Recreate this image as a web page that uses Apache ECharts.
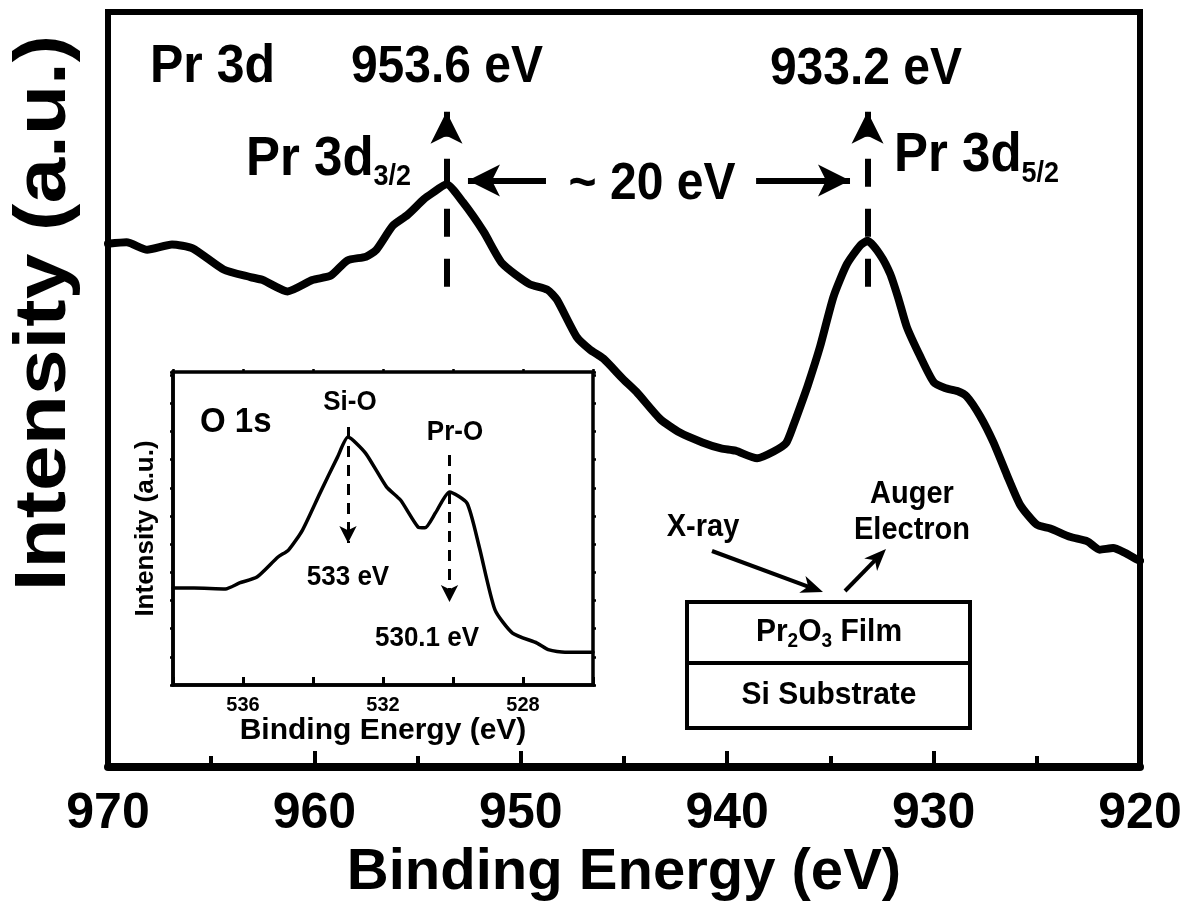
<!DOCTYPE html>
<html>
<head>
<meta charset="utf-8">
<script src="https://cdn.jsdelivr.net/npm/echarts@6/dist/echarts.min.js"></script>
<style>
  html, body { margin: 0; padding: 0; background: #fff; }
  #chart { width: 1193px; height: 907px; }
</style>
</head>
<body>
<div id="chart"></div>
<script>
// Pr 3d core-level spectrum: binding energy (eV) and intensity (a.u.)
const pr3dEnergy = [
  970.0, 969.1, 968.1, 966.9, 965.9, 964.4, 963.1, 962.5, 961.3, 960.1,
  959.2, 958.4, 957.5, 957.0, 956.2, 955.5, 954.7, 954.3, 953.6, 952.8,
  951.8, 950.9, 949.6, 948.7, 948.25, 947.3, 946.65, 946.0, 945.05, 944.4,
  943.25, 942.3, 941.2, 940.3, 939.6, 938.55, 937.75, 937.15, 936.8, 936.45,
  936.1, 935.5, 934.85, 934.2, 933.55, 933.2, 932.6, 932.1, 931.7, 931.3,
  930.65, 930.0, 929.45, 928.85, 928.4, 927.75, 927.1, 926.45, 925.8, 925.0,
  924.35, 923.4, 922.55, 921.95, 921.3, 920.75, 920.15, 920.0
];
const pr3dIntensity = [
  69.3, 69.5, 68.5, 69.2, 68.7, 65.9, 64.9, 64.5, 63.0, 64.5,
  65.1, 67.1, 67.6, 68.5, 71.7, 73.1, 75.2, 76.0, 77.2, 74.8,
  70.9, 66.7, 64.0, 63.2, 61.9, 57.0, 55.3, 54.1, 51.4, 49.7,
  46.1, 44.3, 43.0, 42.2, 41.9, 40.9, 41.8, 42.9, 45.2, 47.8,
  50.5, 55.7, 62.3, 66.6, 69.1, 69.7, 67.9, 65.3, 62.0, 58.3,
  54.4, 51.0, 50.2, 49.8, 49.1, 46.5, 43.0, 38.7, 34.7, 32.1,
  31.6, 30.5, 29.9, 28.8, 29.0, 28.4, 27.5, 27.3
];

// O 1s inset spectrum
const o1sEnergy = [
  538.0, 537.4, 536.5, 536.1, 535.6, 535.0, 534.7, 534.3, 533.8, 533.3,
  533.0, 532.5, 531.9, 531.5, 531.0, 530.8, 530.5, 530.1, 529.6, 529.25,
  528.8, 528.3, 527.6, 527.25, 526.8, 526.0
];
const o1sIntensity = [
  31.0, 31.0, 30.7, 32.6, 34.5, 40.9, 43.1, 49.5, 61.3, 72.8,
  79.2, 74.1, 63.3, 59.1, 50.5, 50.2, 55.0, 61.7, 58.1, 44.1,
  24.0, 16.6, 13.4, 11.2, 10.5, 10.5
];

// Peak positions (eV)
const pr3dPeaks = [953.6, 933.2];   // 3d3/2, 3d5/2
const o1sPeaks = [533.0, 530.1];    // Si-O, Pr-O

// Tick labels
const mainTickLabels = [970, 960, 950, 940, 930, 920];
const insetTickLabels = [536, 532, 528];

const FONT = '"Liberation Sans", Arial, Helvetica, sans-serif';
const STRETCH = 1.07;   // slightly tall lettering
const zip = (xs, ys) => xs.map((x, i) => [x, ys[i]]);

const measureCtx = document.createElement('canvas').getContext('2d');
function textWidth(t, size) {
  measureCtx.font = 'bold ' + size + 'px ' + FONT;
  return measureCtx.measureText(t).width;
}
function txt(t, x, y, size, align, extra) {
  return Object.assign({
    type: 'text', x: x, y: y, silent: true, scaleY: STRETCH,
    style: {
      text: t, fontSize: size, fontWeight: 'bold', fontFamily: FONT,
      fill: '#000', align: align || 'center', verticalAlign: 'middle'
    }
  }, extra || {});
}
// a run of text pieces [text, size, dy] laid out left to right
function textRun(pieces, x, y, align) {
  const total = pieces.reduce((s, p) => s + textWidth(p[0], p[1]), 0);
  let cx = align === 'center' ? x - total / 2 : x;
  return pieces.map(p => {
    const el = txt(p[0], cx, y + (p[2] || 0), p[1], 'left');
    cx += textWidth(p[0], p[1]);
    return el;
  });
}
// straight arrow with a filled head
function arrow(x1, y1, x2, y2, len, wid, lw) {
  const dx = x2 - x1, dy = y2 - y1, d = Math.hypot(dx, dy);
  const ux = dx / d, uy = dy / d, px = -uy, py = ux;
  const bx = x2 - ux * len, by = y2 - uy * len;
  const nx = x2 - ux * len * 0.72, ny = y2 - uy * len * 0.72;
  return [
    { type: 'line', silent: true, shape: { x1: x1, y1: y1, x2: nx, y2: ny },
      style: { stroke: '#000', lineWidth: lw } },
    { type: 'polygon', silent: true,
      shape: { points: [[x2, y2], [bx + px * wid / 2, by + py * wid / 2], [nx, ny], [bx - px * wid / 2, by - py * wid / 2]] },
      style: { fill: '#000' } }
  ];
}

const chart = echarts.init(document.getElementById('chart'), null, { renderer: 'canvas' });

const thinTicks = (len, w) => ({ show: true, inside: false, length: len, lineStyle: { color: '#000', width: w } });

const option = {
  animation: false,
  backgroundColor: '#fff',
  textStyle: { fontFamily: FONT, fontWeight: 'bold', color: '#000' },
  grid: [
    { left: 108, top: 12, width: 1032, height: 763, show: true, borderColor: '#000', borderWidth: 6, backgroundColor: 'transparent' },
    { left: 173, top: 372, width: 420, height: 313, show: true, borderColor: '#000', borderWidth: 3.5, backgroundColor: '#fff' }
  ],
  xAxis: [
    {
      gridIndex: 0, type: 'value', min: 920, max: 970, interval: 10, inverse: true,
      axisLine: { show: true, onZero: false, lineStyle: { color: '#000', width: 8 } },
      axisTick: { show: true, inside: true, length: 16, lineStyle: { color: '#000', width: 4 } },
      minorTick: { show: true, splitNumber: 2, length: 11, lineStyle: { color: '#000', width: 4 } },
      splitLine: { show: false },
      axisLabel: {
        show: true, margin: 22, fontSize: 50, fontWeight: 'bold', fontFamily: FONT, color: '#000',
        showMinLabel: true, showMaxLabel: true,
        formatter: v => (mainTickLabels.indexOf(v) >= 0 ? String(v) : '')
      },
      name: 'Binding Energy (eV)', nameLocation: 'middle', nameGap: 66,
      nameTextStyle: { fontSize: 58, fontWeight: 'bold', fontFamily: FONT, color: '#000' }
    },
    {
      gridIndex: 1, type: 'value', min: 526, max: 538, interval: 2, inverse: true,
      axisLine: { show: true, onZero: false, lineStyle: { color: '#000', width: 3.5 } },
      axisTick: { show: true, inside: true, length: 8, lineStyle: { color: '#000', width: 3 } },
      splitLine: { show: false },
      axisLabel: {
        show: true, margin: 10, fontSize: 20, fontWeight: 'bold', fontFamily: FONT, color: '#000',
        formatter: v => (insetTickLabels.indexOf(v) >= 0 ? String(v) : '')
      },
      name: 'Binding Energy (eV)', nameLocation: 'middle', nameGap: 30,
      nameTextStyle: { fontSize: 30, fontWeight: 'bold', fontFamily: FONT, color: '#000' }
    },
    {
      gridIndex: 1, type: 'value', min: 526, max: 538, interval: 2, inverse: true, position: 'top',
      axisLine: { show: false, onZero: false },
      axisTick: thinTicks(3, 2.5),
      axisLabel: { show: false }, splitLine: { show: false }
    }
  ],
  yAxis: [
    {
      gridIndex: 0, type: 'value', min: 0, max: 100, interval: 3.5,
      axisLine: { show: true, onZero: false, lineStyle: { color: '#000', width: 6 } },
      axisTick: thinTicks(3, 3), axisLabel: { show: false }, splitLine: { show: false }
    },
    {
      gridIndex: 0, type: 'value', min: 0, max: 100, interval: 3.5, position: 'right',
      axisLine: { show: true, onZero: false, lineStyle: { color: '#000', width: 6 } },
      axisTick: thinTicks(3, 3), axisLabel: { show: false }, splitLine: { show: false }
    },
    {
      gridIndex: 1, type: 'value', min: 0, max: 100, interval: 9,
      axisLine: { show: true, onZero: false, lineStyle: { color: '#000', width: 3.5 } },
      axisTick: thinTicks(3, 2.5), axisLabel: { show: false }, splitLine: { show: false },
      name: 'Intensity (a.u.)', nameLocation: 'middle', nameGap: 14, nameRotate: 90,
      nameTextStyle: { fontSize: 26, fontWeight: 'bold', fontFamily: FONT, color: '#000' }
    },
    {
      gridIndex: 1, type: 'value', min: 0, max: 100, interval: 9, position: 'right',
      axisLine: { show: false, onZero: false },
      axisTick: thinTicks(3, 2.5), axisLabel: { show: false }, splitLine: { show: false }
    }
  ],
  series: [
    {
      name: 'Pr 3d', type: 'line', xAxisIndex: 0, yAxisIndex: 0,
      data: zip(pr3dEnergy, pr3dIntensity),
      showSymbol: false, smooth: 0.2, silent: true,
      lineStyle: { color: '#000', width: 8, cap: 'round', join: 'round' },
      markLine: {
        silent: true, animation: false,
        symbol: ['none', 'arrow'], symbolSize: [24, 32],
        label: { show: false },
        emphasis: { disabled: true },
        lineStyle: { color: '#000', width: 6, type: [28, 22], opacity: 1 },
        data: [
          [{ coord: [pr3dPeaks[0], 63.6] }, { coord: [pr3dPeaks[0], 86.8] }],
          [{ coord: [pr3dPeaks[1], 63.6] }, { coord: [pr3dPeaks[1], 86.8] }],
          [{ coord: [948.78, 77.7], lineStyle: { type: 'solid', width: 6 } }, { coord: [952.56, 77.7] }],
          [{ coord: [938.6, 77.7], lineStyle: { type: 'solid', width: 6 } }, { coord: [934.05, 77.7] }]
        ]
      }
    },
    {
      name: 'O 1s', type: 'line', xAxisIndex: 1, yAxisIndex: 2,
      data: zip(o1sEnergy, o1sIntensity),
      showSymbol: false, smooth: 0.2, silent: true,
      lineStyle: { color: '#000', width: 3.5, cap: 'round', join: 'round' },
      markLine: {
        silent: true, animation: false,
        symbol: ['none', 'arrow'], symbolSize: [13, 17],
        label: { show: false },
        emphasis: { disabled: true },
        lineStyle: { color: '#000', width: 3, type: [11, 8], opacity: 1 },
        data: [
          [{ coord: [o1sPeaks[0], 82.4] }, { coord: [o1sPeaks[0], 45.4] }],
          [{ coord: [o1sPeaks[1], 73.5] }, { coord: [o1sPeaks[1], 26.5] }]
        ]
      }
    }
  ],
  graphic: [].concat(
    [txt('Intensity (a.u.)', 45, 313, 72, 'center', { rotation: Math.PI / 2, scaleX: 1.14, scaleY: 1 })],
    [txt('Pr 3d', 150, 67, 50, 'left')],
    [txt(pr3dPeaks[0].toFixed(1) + ' eV', 447, 68, 48)],
    [txt(pr3dPeaks[1].toFixed(1) + ' eV', 866, 70, 48)],
    textRun([['Pr 3d', 51, 0], ['3/2', 27, 17]], 246, 160, 'left'),
    textRun([['Pr 3d', 51, 0], ['5/2', 27, 18]], 894, 156, 'left'),
    [txt('~ 20 eV', 652, 185, 48)],
    [txt('O 1s', 200, 422, 33, 'left')],
    [txt('Si-O', 350, 402, 26)],
    [txt('Pr-O', 455, 432, 26)],
    [txt(o1sPeaks[0].toFixed(0) + ' eV', 348, 577, 26)],
    [txt(o1sPeaks[1].toFixed(1) + ' eV', 427, 638, 26)],
    // layer stack sketch
    [{ type: 'rect', silent: true, shape: { x: 687, y: 602, width: 283, height: 126 }, style: { fill: '#fff', stroke: '#000', lineWidth: 4 } },
     { type: 'line', silent: true, shape: { x1: 687, y1: 663, x2: 970, y2: 663 }, style: { stroke: '#000', lineWidth: 4 } }],
    textRun([['Pr', 30, 0], ['2', 19, 9], ['O', 30, 0], ['3', 19, 9], [' Film', 30, 0]], 829, 632, 'center'),
    [txt('Si Substrate', 829, 695, 30)],
    [txt('X-ray', 703, 527, 29)],
    [txt('Auger', 912, 494, 29), txt('Electron', 912, 530, 29)],
    arrow(712, 551, 823, 592, 22, 18, 4),
    arrow(845, 591, 886, 549, 22, 18, 4)
  )
};

chart.setOption(option);
</script>
</body>
</html>
